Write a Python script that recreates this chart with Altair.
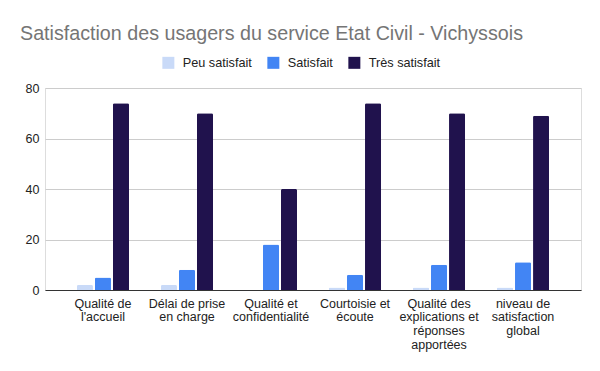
import altair as alt
import pandas as pd

categories = [
    "Qualité de\nl'accueil",
    "Délai de prise\nen charge",
    "Qualité et\nconfidentialité",
    "Courtoisie et\nécoute",
    "Qualité des\nexplications et\nréponses\napportées",
    "niveau de\nsatisfaction\nglobal",
]
series = ["Peu satisfait", "Satisfait", "Très satisfait"]
peu_satisfait = [2, 2, 0, 1, 1, 1]
satisfait = [5, 8, 18, 6, 10, 11]
tres_satisfait = [74, 70, 40, 74, 70, 69]
colors = ["#c9daf8", "#4285f4", "#20124d"]
y_ticks = [0, 20, 40, 60, 80]

rows = []
for name, vals in zip(series, [peu_satisfait, satisfait, tres_satisfait]):
    for cat, v in zip(categories, vals):
        rows.append({"cat": cat, "serie": name, "val": v})
df = pd.DataFrame(rows)

font = "Liberation Sans"

chart = alt.Chart(df).mark_bar(cornerRadiusTopLeft=1.5, cornerRadiusTopRight=1.5).encode(
    x=alt.X("cat:N", sort=categories, title=None,
            scale=alt.Scale(paddingInner=0.38, paddingOuter=0.38),
            axis=alt.Axis(labelExpr="split(datum.label, '\\n')", labelAngle=0,
                          ticks=False, domainColor="#333333", domainWidth=1,
                          labelFont=font, labelFontSize=12.5, labelColor="#222222",
                          labelPadding=7, labelLineHeight=13.8, labelLimit=200)),
    xOffset=alt.XOffset("serie:N", sort=series,
                        scale=alt.Scale(paddingInner=0.11, paddingOuter=0)),
    y=alt.Y("val:Q", title=None,
            scale=alt.Scale(domain=[0, 80], nice=False),
            axis=alt.Axis(values=y_ticks, domain=False, ticks=False,
                          gridColor="#cccccc", gridWidth=1,
                          labelFont=font, labelFontSize=12.5, labelColor="#222222",
                          labelPadding=6)),
    color=alt.Color("serie:N", sort=series,
                    scale=alt.Scale(domain=series, range=colors),
                    legend=alt.Legend(title=None, orient="none", direction="horizontal",
                                      legendX=117, legendY=-32,
                                      symbolType="square", symbolSize=144,
                                      symbolStrokeWidth=0, symbolOpacity=1,
                                      labelFont=font, labelFontSize=12.7,
                                      labelColor="#222222",
                                      labelOffset=8, columnPadding=15)),
).properties(
    width=536,
    height=202,
    title=alt.TitleParams(
        "Satisfaction des usagers du service Etat Civil - Vichyssois",
        anchor="start", frame="group", dx=-25, offset=12,
        fontSize=19.7, color="#757575", font=font, fontWeight="normal",
    ),
    autosize=alt.AutoSizeParams(type="none"),
    padding={"left": 37, "top": 80, "right": 11, "bottom": 75},
).configure_view(stroke=None).configure(background="white")

chart.save("out.html", embed_options={"renderer": "svg", "actions": False})
